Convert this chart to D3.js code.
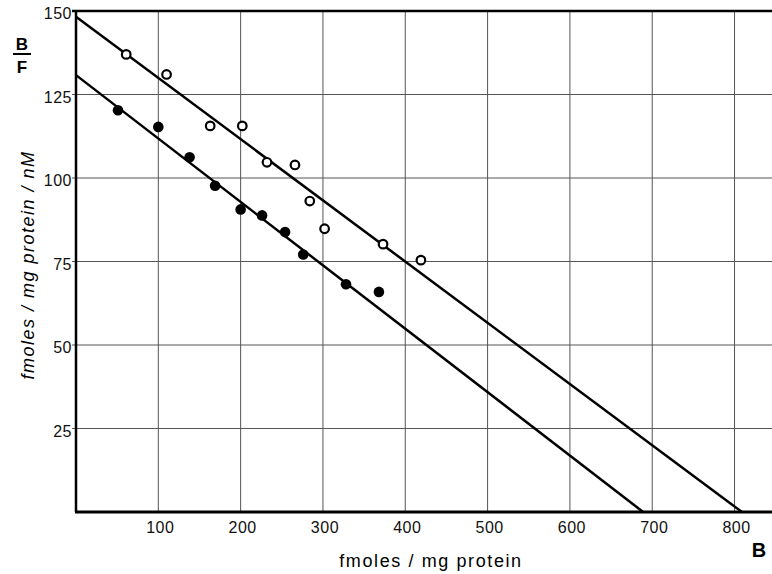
<!DOCTYPE html>
<html>
<head>
<meta charset="utf-8">
<script src="https://cdn.jsdelivr.net/npm/d3@7"></script>
<style>
  body { margin: 0; background: #fff; }
  svg { display: block; font-family: "Liberation Sans", Arial, sans-serif; }
  .grid line { stroke: #555; stroke-width: 1; }
  .tick-label { font-size: 16px; fill: #111; letter-spacing: 0.5px; }
</style>
</head>
<body>
<svg id="chart"></svg>
<script>
// Open circles (upper series)
const openB = [61, 110, 163, 202, 232, 266, 284, 302, 373, 419];
const openBF = [137, 131, 115.6, 115.6, 104.7, 103.9, 93.1, 84.8, 80.2, 75.4];

// Filled circles (lower series)
const filledB = [51, 100, 138, 169, 200, 226, 254, 276, 328, 368];
const filledBF = [120.3, 115.3, 106.2, 97.7, 90.6, 88.8, 83.8, 77.1, 68.2, 65.9];

// Fitted lines: B/F intercept and B intercept
const fitNames = ['open', 'filled'];
const fitBFIntercept = [148.3, 130.8];
const fitBIntercept = [809, 689];

// Ticks
const xTicks = [100, 200, 300, 400, 500, 600, 700, 800];
const yTicks = [25, 50, 75, 100, 125, 150];

const width = 772, height = 574;
const margin = { top: 11, right: 0, bottom: 62, left: 76 };

const svg = d3.select('#chart')
  .attr('width', width)
  .attr('height', height);

const x = d3.scaleLinear()
  .domain([0, 845.5])
  .range([margin.left, width - margin.right]);

const y = d3.scaleLinear()
  .domain([0, 150])
  .range([height - margin.bottom, margin.top]);

// Gridlines
const grid = svg.append('g').attr('class', 'grid');
grid.selectAll('.vgrid')
  .data(xTicks)
  .join('line')
  .attr('class', 'vgrid')
  .attr('x1', d => x(d)).attr('x2', d => x(d))
  .attr('y1', y(0)).attr('y2', y(150));
grid.selectAll('.hgrid')
  .data(yTicks.filter(d => d < 150))
  .join('line')
  .attr('class', 'hgrid')
  .attr('x1', x(0) - 4).attr('x2', width)
  .attr('y1', d => y(d)).attr('y2', d => y(d));

// Frame: top line, left and bottom axes
svg.append('line')
  .attr('x1', x(0) - 4).attr('x2', width)
  .attr('y1', y(150)).attr('y2', y(150))
  .attr('stroke', '#000').attr('stroke-width', 2.5);
svg.append('line')
  .attr('x1', x(0)).attr('x2', x(0))
  .attr('y1', y(150)).attr('y2', y(0))
  .attr('stroke', '#000').attr('stroke-width', 2.5);
svg.append('line')
  .attr('x1', x(0) - 1).attr('x2', width)
  .attr('y1', y(0)).attr('y2', y(0))
  .attr('stroke', '#000').attr('stroke-width', 3);

// Fitted lines
const fits = fitNames.map((n, i) => ({ name: n, bf: fitBFIntercept[i], b: fitBIntercept[i] }));
svg.selectAll('.fit')
  .data(fits)
  .join('line')
  .attr('class', 'fit')
  .attr('x1', x(0)).attr('y1', d => y(d.bf))
  .attr('x2', d => x(d.b)).attr('y2', y(0))
  .attr('stroke', '#000')
  .attr('stroke-width', 2.5);

// Points
const openPts = openB.map((b, i) => ({ b: b, bf: openBF[i] }));
const filledPts = filledB.map((b, i) => ({ b: b, bf: filledBF[i] }));

svg.selectAll('.open-pt')
  .data(openPts)
  .join('circle')
  .attr('class', 'open-pt')
  .attr('cx', d => x(d.b))
  .attr('cy', d => y(d.bf))
  .attr('r', 4.3)
  .attr('fill', '#fff')
  .attr('stroke', '#000')
  .attr('stroke-width', 2.2);

svg.selectAll('.filled-pt')
  .data(filledPts)
  .join('circle')
  .attr('class', 'filled-pt')
  .attr('cx', d => x(d.b))
  .attr('cy', d => y(d.bf))
  .attr('r', 5.3)
  .attr('fill', '#000');

// Tick labels
svg.selectAll('.xlab')
  .data(xTicks)
  .join('text')
  .attr('class', 'tick-label')
  .attr('x', d => x(d) + 2)
  .attr('y', y(0) + 21)
  .attr('text-anchor', 'middle')
  .text(d => d);

svg.selectAll('.ylab')
  .data(yTicks)
  .join('text')
  .attr('class', 'tick-label')
  .attr('x', x(0) - 4)
  .attr('y', d => y(d) + 8)
  .attr('text-anchor', 'end')
  .text(d => d);

// Axis titles
svg.append('text')
  .attr('x', 431)
  .attr('y', 567)
  .attr('text-anchor', 'middle')
  .style('font-size', '18px')
  .style('letter-spacing', '1.6px')
  .text('fmoles / mg protein');

svg.append('text')
  .attr('x', 759)
  .attr('y', 557)
  .attr('text-anchor', 'middle')
  .style('font-size', '20px')
  .style('font-weight', 'bold')
  .text('B');

svg.append('text')
  .attr('transform', 'translate(34,265) rotate(-90)')
  .attr('text-anchor', 'middle')
  .style('font-size', '18px')
  .style('font-style', 'italic')
  .style('letter-spacing', '1.5px')
  .text('fmoles / mg protein / nM');

// B/F fraction
const frac = svg.append('g').attr('transform', 'translate(22,0)');
frac.append('text')
  .attr('x', 0).attr('y', 50)
  .attr('text-anchor', 'middle')
  .style('font-size', '17px')
  .style('font-weight', 'bold')
  .text('B');
frac.append('line')
  .attr('x1', -9).attr('x2', 9)
  .attr('y1', 54).attr('y2', 54)
  .attr('stroke', '#000').attr('stroke-width', 2);
frac.append('text')
  .attr('x', 0).attr('y', 73)
  .attr('text-anchor', 'middle')
  .style('font-size', '17px')
  .style('font-weight', 'bold')
  .text('F');
</script>
</body>
</html>
